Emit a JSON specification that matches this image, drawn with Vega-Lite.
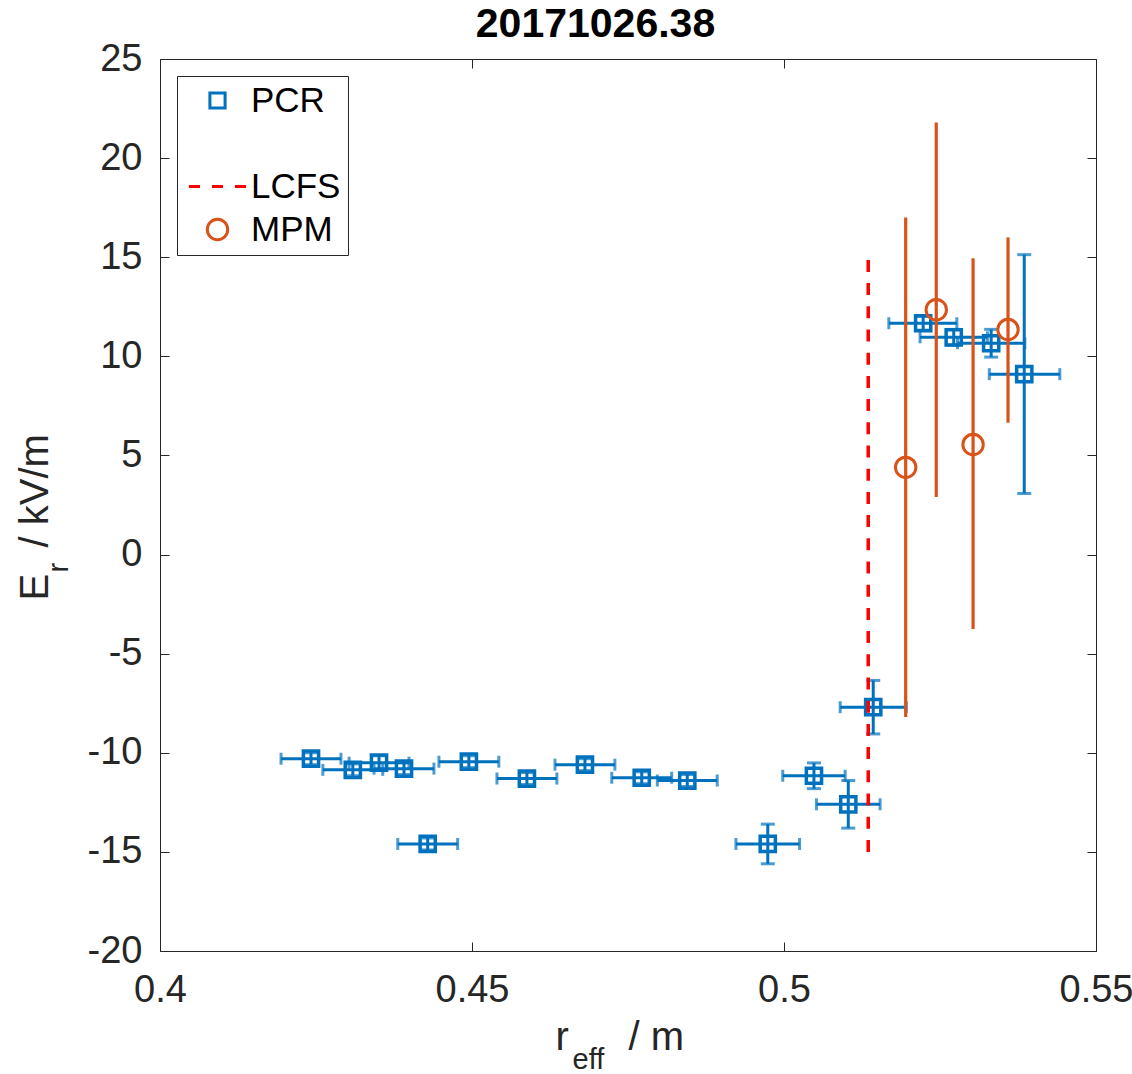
{
  "$schema": "https://vega.github.io/schema/vega-lite/v6.json",
  "width": 936,
  "height": 892,
  "autosize": "none",
  "padding": {"left": 160, "top": 59, "right": 36, "bottom": 123},
  "background": "white",
  "config": {
    "view": {"stroke": null},
    "axis": {"grid": false, "domainColor": "#262626", "tickColor": "#262626", "labelColor": "#262626", "titleColor": "#262626", "labelFont": "Liberation Sans", "titleFont": "Liberation Sans", "titleFontWeight": "normal", "labelFontSize": 38, "titleFontSize": 40, "labelFlush": false, "labelOverlap": false},
    "legend": {"orient": "top-left", "offset": 17, "padding": 7, "strokeColor": "#262626", "fillColor": "white", "symbolSize": 400, "symbolStrokeWidth": 3, "symbolOffset": 16, "labelOffset": 16, "labelFontSize": 35, "labelFont": "Liberation Sans", "labelColor": "black", "rowPadding": 7, "labelLimit": 0, "cornerRadius": 0}
  },
  "datasets": {
    "pcr": [
      {"r": 0.4242, "E": -10.3, "rlo": 0.4194, "rhi": 0.4290, "Elo": -10.6, "Ehi": -10.0, "series": "PCR"},
      {"r": 0.4309, "E": -10.86, "rlo": 0.4261, "rhi": 0.4357, "Elo": -11.16, "Ehi": -10.56, "series": "PCR"},
      {"r": 0.4351, "E": -10.5, "rlo": 0.4303, "rhi": 0.4399, "Elo": -10.85, "Ehi": -10.15, "series": "PCR"},
      {"r": 0.4391, "E": -10.8, "rlo": 0.4343, "rhi": 0.4439, "Elo": -11.1, "Ehi": -10.5, "series": "PCR"},
      {"r": 0.4495, "E": -10.45, "rlo": 0.4447, "rhi": 0.4543, "Elo": -10.75, "Ehi": -10.15, "series": "PCR"},
      {"r": 0.4588, "E": -11.3, "rlo": 0.4540, "rhi": 0.4636, "Elo": -11.6, "Ehi": -11.0, "series": "PCR"},
      {"r": 0.4681, "E": -10.6, "rlo": 0.4633, "rhi": 0.4729, "Elo": -10.9, "Ehi": -10.3, "series": "PCR"},
      {"r": 0.4772, "E": -11.26, "rlo": 0.4724, "rhi": 0.4820, "Elo": -11.56, "Ehi": -10.96, "series": "PCR"},
      {"r": 0.4845, "E": -11.4, "rlo": 0.4797, "rhi": 0.4893, "Elo": -11.7, "Ehi": -11.1, "series": "PCR"},
      {"r": 0.4429, "E": -14.6, "rlo": 0.4381, "rhi": 0.4477, "Elo": -14.9, "Ehi": -14.3, "series": "PCR"},
      {"r": 0.4974, "E": -14.6, "rlo": 0.4923, "rhi": 0.5025, "Elo": -15.6, "Ehi": -13.6, "series": "PCR"},
      {"r": 0.5048, "E": -11.16, "rlo": 0.4998, "rhi": 0.5098, "Elo": -11.81, "Ehi": -10.51, "series": "PCR"},
      {"r": 0.5103, "E": -12.6, "rlo": 0.5052, "rhi": 0.5154, "Elo": -13.8, "Ehi": -11.4, "series": "PCR"},
      {"r": 0.5143, "E": -7.7, "rlo": 0.5090, "rhi": 0.5196, "Elo": -9.05, "Ehi": -6.35, "series": "PCR"},
      {"r": 0.5223, "E": 11.67, "rlo": 0.5168, "rhi": 0.5277, "Elo": 11.32, "Ehi": 12.02, "series": "PCR"},
      {"r": 0.5272, "E": 10.96, "rlo": 0.5218, "rhi": 0.5326, "Elo": 10.56, "Ehi": 11.36, "series": "PCR"},
      {"r": 0.5332, "E": 10.66, "rlo": 0.5278, "rhi": 0.5386, "Elo": 9.96, "Ehi": 11.36, "series": "PCR"},
      {"r": 0.5385, "E": 9.1, "rlo": 0.5329, "rhi": 0.5442, "Elo": 3.08, "Ehi": 15.13, "series": "PCR"}
    ],
    "mpm": [
      {"r": 0.5195, "E": 4.4, "Elo": -8.2, "Ehi": 17.0, "series": "MPM"},
      {"r": 0.5244, "E": 12.35, "Elo": 2.9, "Ehi": 21.8, "series": "MPM"},
      {"r": 0.5303, "E": 5.55, "Elo": -3.75, "Ehi": 14.95, "series": "MPM"},
      {"r": 0.5359, "E": 11.35, "Elo": 6.65, "Ehi": 16.0, "series": "MPM"}
    ],
    "lcfs": [
      {"r": 0.5135, "Elo": -15, "Ehi": 15}
    ]
  },
  "resolve": {"axis": {"x": "independent", "y": "independent"}},
  "layer": [
    {
      "data": {"name": "pcr"},
      "mark": {"type": "rule", "color": "#0072BD", "strokeWidth": 3},
      "encoding": {
        "x": {"field": "rlo", "type": "quantitative", "scale": {"domain": [0.4, 0.55], "nice": false, "zero": false},
          "axis": {"orient": "bottom", "values": [0.4, 0.45, 0.5, 0.55], "labelExpr": "toString(datum.value)", "labelBaseline": "alphabetic", "labelPadding": 59, "tickSize": -9, "title": "r", "titleX": 395, "titleY": 98, "titleAlign": "left", "titleBaseline": "alphabetic", "titleAngle": 0}},
        "x2": {"field": "rhi"},
        "y": {"field": "E", "type": "quantitative", "scale": {"domain": [-20, 25], "nice": false, "zero": false},
          "axis": {"orient": "left", "values": [-20, -15, -10, -5, 0, 5, 10, 15, 20, 25], "labelExpr": "toString(datum.value)", "labelPadding": 27, "tickSize": -9, "title": "E", "titleX": -113, "titleY": 541, "titleAlign": "left", "titleBaseline": "alphabetic", "titleAngle": 270}}
      }
    },
    {
      "data": {"name": "pcr"},
      "mark": {"type": "tick", "orient": "vertical", "color": "#0072BD", "size": 12, "thickness": 3},
      "encoding": {
        "x": {"field": "rlo", "type": "quantitative", "scale": {"domain": [0.4, 0.55], "nice": false, "zero": false},
          "axis": {"orient": "bottom", "labels": false, "ticks": false, "domain": false, "title": "eff", "titleFontSize": 29, "titleX": 412, "titleY": 117, "titleAlign": "left", "titleBaseline": "alphabetic", "titleAngle": 0}},
        "y": {"field": "E", "type": "quantitative", "scale": {"domain": [-20, 25], "nice": false, "zero": false},
          "axis": {"orient": "left", "labels": false, "ticks": false, "domain": false, "title": "r", "titleFontSize": 29, "titleX": -93, "titleY": 513, "titleAlign": "left", "titleBaseline": "alphabetic", "titleAngle": 270}}
      }
    },
    {
      "data": {"name": "pcr"},
      "mark": {"type": "tick", "orient": "vertical", "color": "#0072BD", "size": 12, "thickness": 3},
      "encoding": {
        "x": {"field": "rhi", "type": "quantitative", "scale": {"domain": [0.4, 0.55], "nice": false, "zero": false},
          "axis": {"orient": "bottom", "labels": false, "ticks": false, "domain": false, "title": "/ m", "titleX": 468, "titleY": 98, "titleAlign": "left", "titleBaseline": "alphabetic", "titleAngle": 0}},
        "y": {"field": "E", "type": "quantitative", "scale": {"domain": [-20, 25], "nice": false, "zero": false},
          "axis": {"orient": "left", "labels": false, "ticks": false, "domain": false, "title": "/ kV/m", "titleX": -113, "titleY": 488, "titleAlign": "left", "titleBaseline": "alphabetic", "titleAngle": 270}}
      }
    },
    {
      "data": {"name": "pcr"},
      "mark": {"type": "rule", "color": "#0072BD", "strokeWidth": 3},
      "encoding": {
        "x": {"field": "r", "type": "quantitative", "scale": {"domain": [0.4, 0.55], "nice": false, "zero": false},
          "axis": {"orient": "top", "values": [0.4, 0.45, 0.5, 0.55], "labels": false, "tickSize": -9, "title": "20171026.38", "titleFontSize": 41, "titleFontWeight": "bold", "titleColor": "black", "titleX": 435, "titleY": -23, "titleAlign": "center", "titleBaseline": "alphabetic", "titleAngle": 0}},
        "y": {"field": "Elo", "type": "quantitative", "scale": {"domain": [-20, 25], "nice": false, "zero": false},
          "axis": {"orient": "right", "values": [-20, -15, -10, -5, 0, 5, 10, 15, 20, 25], "labels": false, "tickSize": -9, "title": null}},
        "y2": {"field": "Ehi"}
      }
    },
    {
      "data": {"name": "pcr"},
      "mark": {"type": "tick", "orient": "horizontal", "color": "#0072BD", "size": 14, "thickness": 3},
      "encoding": {
        "x": {"field": "r", "type": "quantitative", "scale": {"domain": [0.4, 0.55], "nice": false, "zero": false}, "axis": null},
        "y": {"field": "Elo", "type": "quantitative", "scale": {"domain": [-20, 25], "nice": false, "zero": false}, "axis": null}
      }
    },
    {
      "data": {"name": "pcr"},
      "mark": {"type": "tick", "orient": "horizontal", "color": "#0072BD", "size": 14, "thickness": 3},
      "encoding": {
        "x": {"field": "r", "type": "quantitative", "scale": {"domain": [0.4, 0.55], "nice": false, "zero": false}, "axis": null},
        "y": {"field": "Ehi", "type": "quantitative", "scale": {"domain": [-20, 25], "nice": false, "zero": false}, "axis": null}
      }
    },
    {
      "data": {"name": "pcr"},
      "mark": {"type": "point", "filled": false, "size": 400, "strokeWidth": 3.5, "opacity": 1},
      "encoding": {
        "x": {"field": "r", "type": "quantitative", "scale": {"domain": [0.4, 0.55], "nice": false, "zero": false}, "axis": null},
        "y": {"field": "E", "type": "quantitative", "scale": {"domain": [-20, 25], "nice": false, "zero": false}, "axis": null},
        "color": {"field": "series", "type": "nominal", "scale": {"domain": ["PCR", " ", "LCFS", "MPM"], "range": ["#0072BD", "rgba(0,0,0,0)", "#FF0000", "#D95319"]}, "legend": {"title": null}},
        "shape": {"field": "series", "type": "nominal", "scale": {"domain": ["PCR", " ", "LCFS", "MPM"], "range": ["M-0.76,-0.76H0.76V0.76H-0.76Z", "M0,0", "M-2.85,0H-1.75M-0.55,0H0.55M1.75,0H2.85", "M1.02,0A1.02,1.02,0,1,1,-1.02,0A1.02,1.02,0,1,1,1.02,0Z"]}, "legend": {"title": null}}
      }
    },
    {
      "data": {"name": "lcfs"},
      "mark": {"type": "rule", "color": "#FF0000", "strokeWidth": 3.5, "strokeDash": [12, 11.2]},
      "encoding": {
        "x": {"field": "r", "type": "quantitative", "scale": {"domain": [0.4, 0.55], "nice": false, "zero": false}, "axis": null},
        "y": {"field": "Elo", "type": "quantitative", "scale": {"domain": [-20, 25], "nice": false, "zero": false}, "axis": null},
        "y2": {"field": "Ehi"}
      }
    },
    {
      "data": {"name": "mpm"},
      "mark": {"type": "rule", "color": "#D95319", "strokeWidth": 3.2},
      "encoding": {
        "x": {"field": "r", "type": "quantitative", "scale": {"domain": [0.4, 0.55], "nice": false, "zero": false}, "axis": null},
        "y": {"field": "Elo", "type": "quantitative", "scale": {"domain": [-20, 25], "nice": false, "zero": false}, "axis": null},
        "y2": {"field": "Ehi"}
      }
    },
    {
      "data": {"name": "mpm"},
      "mark": {"type": "point", "filled": false, "size": 400, "strokeWidth": 3, "opacity": 1},
      "encoding": {
        "x": {"field": "r", "type": "quantitative", "scale": {"domain": [0.4, 0.55], "nice": false, "zero": false}, "axis": null},
        "y": {"field": "E", "type": "quantitative", "scale": {"domain": [-20, 25], "nice": false, "zero": false}, "axis": null},
        "color": {"field": "series", "type": "nominal", "scale": {"domain": ["PCR", " ", "LCFS", "MPM"], "range": ["#0072BD", "rgba(0,0,0,0)", "#FF0000", "#D95319"]}, "legend": {"title": null}},
        "shape": {"field": "series", "type": "nominal", "scale": {"domain": ["PCR", " ", "LCFS", "MPM"], "range": ["M-0.76,-0.76H0.76V0.76H-0.76Z", "M0,0", "M-2.85,0H-1.75M-0.55,0H0.55M1.75,0H2.85", "M1.02,0A1.02,1.02,0,1,1,-1.02,0A1.02,1.02,0,1,1,1.02,0Z"]}, "legend": {"title": null}}
      }
    }
  ]
}
